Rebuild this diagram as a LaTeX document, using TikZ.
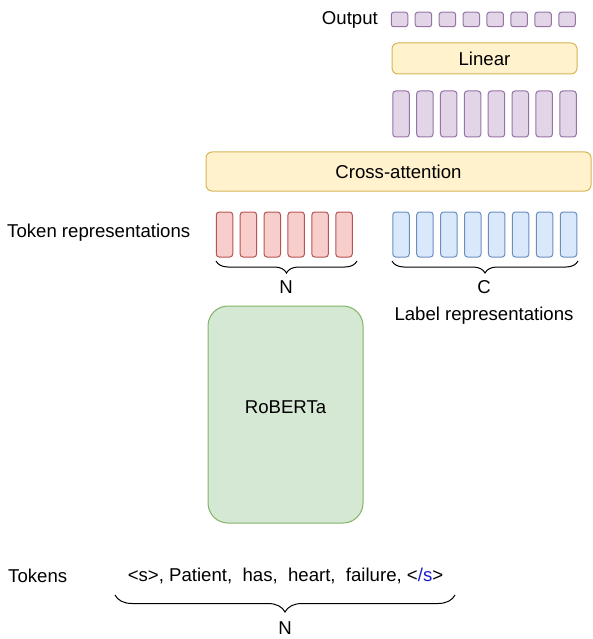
\documentclass[tikz,border=0pt]{standalone}
\usepackage{fontspec}
\setmainfont{Liberation Sans}
\usetikzlibrary{decorations.pathreplacing}
\definecolor{yfill}{HTML}{FFF2CC}
\definecolor{ystroke}{HTML}{D6B656}
\definecolor{pfill}{HTML}{E1D5E7}
\definecolor{pstroke}{HTML}{9673A6}
\definecolor{rfill}{HTML}{F8CECC}
\definecolor{rstroke}{HTML}{B85450}
\definecolor{bfill}{HTML}{DAE8FC}
\definecolor{bstroke}{HTML}{6C8EBF}
\definecolor{gfill}{HTML}{D5E8D4}
\definecolor{gstroke}{HTML}{82B366}
\definecolor{tokblue}{HTML}{1A1AD0}
\begin{document}
\begin{tikzpicture}[x=1pt,y=-1pt,
  txt/.style={font=\fontsize{18.6}{22}\selectfont, inner sep=0pt},
  ybox/.style={txt, draw=ystroke, fill=yfill, rounded corners=6pt, line width=1pt},
  osq/.style={draw=pstroke, fill=pfill, rounded corners=2.5pt, line width=1pt, inner sep=0pt, minimum width=16.5pt, minimum height=14.5pt},
  bar/.style={rounded corners=3pt, line width=1pt, inner sep=0pt, minimum width=16.5pt, minimum height=45pt},
  pbar/.style={bar, draw=pstroke, fill=pfill, minimum height=46pt},
  rbar/.style={bar, draw=rstroke, fill=rfill},
  bbar/.style={bar, draw=bstroke, fill=bfill},
  gbox/.style={draw=gstroke, fill=gfill, rounded corners=20pt, line width=1pt, inner sep=0pt},
  curly/.style={decorate, decoration={brace, mirror, amplitude=12pt}, line width=1pt}
]
\useasboundingbox (0,0) rectangle (592,639);

% output row
\node[txt, anchor=east] (outlbl) at (378,20) {Output};
\foreach \i in {0,...,7} \node[osq] (o\i) at ({399.5+23.93*\i},19.5) {};

% linear
\node[ybox, minimum width=185pt, minimum height=31pt] (linear) at (484.5,58.5) {Linear};

% purple bars
\foreach \i in {0,...,7} \node[pbar] (p\i) at ({401+23.86*\i},114) {};

% cross attention
\node[ybox, minimum width=385pt, minimum height=39pt] (cross) at (398.5,171.5) {Cross-attention};

% token representations
\node[txt, anchor=west] (toklbl) at (7,232.5) {Token representations};
\foreach \i in {0,...,5} \node[rbar] (r\i) at ({224.5+23.9*\i},234.5) {};
\foreach \i in {0,...,7} \node[bbar] (b\i) at ({401+23.93*\i},234.5) {};

% braces
\coordinate (nbl) at (216,261);
\coordinate (nbr) at (357,261);
\draw[curly] (nbl) -- (nbr);
\node[txt] (nlbl) at (286,287) {N};
\coordinate (cbl) at (392,261);
\coordinate (cbr) at (578,261);
\draw[curly] (cbl) -- (cbr);
\node[txt] (clbl) at (484,287) {C};
\node[txt] (lablbl) at (484,315.5) {Label representations};

% roberta
\node[gbox, minimum width=155pt, minimum height=217pt] (roberta) at (285.5,414.5) {};
\node[txt] (robtxt) at (285.5,407) {RoBERTa};

% tokens
\node[txt, anchor=west] (tokslbl) at (8,575.5) {Tokens};
\node[txt] (tokens) at (285.5,575.5) {<s>, Patient,~~has,~~heart,~~failure, <\textcolor{tokblue}{/s}>};
\coordinate (tbl) at (115,595);
\coordinate (tbr) at (455,595);
\draw[curly, decoration={brace, mirror, amplitude=17pt}] (tbl) -- (tbr);
\node[txt] (tnlbl) at (285,628) {N};
\end{tikzpicture}
\end{document}
